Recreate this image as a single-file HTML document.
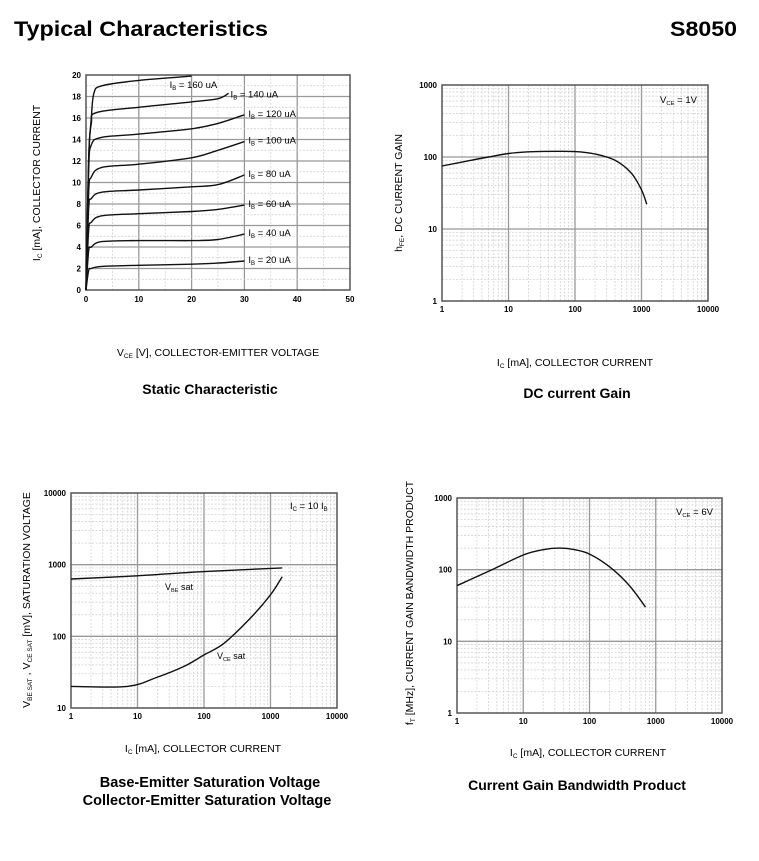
<!DOCTYPE html>
<html><head><meta charset="utf-8"><style>
body{margin:0;background:#fff;width:759px;height:856px;overflow:hidden;font-family:"Liberation Sans",Arial,sans-serif}
svg text{font-family:"Liberation Sans",Arial,sans-serif}
</style></head><body>
<svg id="s" width="759" height="856" viewBox="0 0 759 856">
<text x="14" y="36" font-size="21" font-weight="bold" textLength="254" lengthAdjust="spacingAndGlyphs">Typical Characteristics</text>
<text x="670" y="36" font-size="21" font-weight="bold" textLength="67" lengthAdjust="spacingAndGlyphs">S8050</text>
</svg>
<script>
// Static characteristic data (Vce V, Ic mA)
const ibLabels=["20 uA","40 uA","60 uA","80 uA","100 uA","120 uA","140 uA","160 uA"];
const ibX=[[0,0.5,1,3,10,20,25,30],[0,0.5,1,3,10,20,25,30],[0,0.5,1,3,10,20,25,30],[0,0.5,1,3,10,20,25,30],[0,0.5,1,3,10,20,25,30],[0,0.5,1,3,10,20,25,30],[0,0.5,1,2,10,20,25,27],[0,0.5,1,1.5,3,10,20]];
const ibY=[[0,1.8,2.0,2.2,2.3,2.4,2.5,2.7],[0,3.6,4.0,4.5,4.6,4.6,4.7,5.2],[0,5.5,6.3,6.9,7.1,7.3,7.5,7.9],[0,7.5,8.5,9.1,9.3,9.6,9.8,10.7],[0,9,10.5,11.4,11.7,12.3,13,13.8],[0,11,13.5,14.2,14.5,15,15.5,16.3],[0,12,15.5,16.5,17,17.5,17.8,18.3],[0,12,16,18.3,19,19.5,19.9]];
const tlXTicks=[0,10,20,30,40,50];
const tlYTicks=[0,2,4,6,8,10,12,14,16,18,20];
// DC current gain
const hfeX=[1,2,5,10,20,50,100,200,400,700,1000,1200];
const hfeY=[75,85,100,112,118,120,119,110,90,60,35,22];
// Saturation voltages
const vbeX=[1,10,100,1500];
const vbeY=[630,700,800,900];
const vceX=[1,7,20,50,100,200,500,1000,1500];
const vceY=[20,20,27,38,55,80,180,380,680];
// Gain bandwidth
const ftX=[1,3,10,20,35,60,100,200,400,700];
const ftY=[60,95,160,190,200,190,165,110,60,30];

const NS="http://www.w3.org/2000/svg";
const svg=document.getElementById('s');
const AX=10.5;
function el(t,a,p){const e=document.createElementNS(NS,t);for(const k in a)e.setAttribute(k,a[k]);(p||svg).appendChild(e);return e;}
function txt(x,y,s,size,extra,p){const e=el('text',Object.assign({x:x,y:y,'font-size':size},extra||{}),p);e.textContent=s;return e;}

function frame(name){
  const g=el('g',{});
  
  
  return g;
}
function logAxis(a,b,min,max){const la=Math.log10(min),lb=Math.log10(max);return v=>a+(Math.log10(v)-la)/(lb-la)*(b-a);}
function linAxis(a,b,min,max){return v=>a+(v-min)/(max-min)*(b-a);}
function line(g,x1,y1,x2,y2,st,w,dash){const l=el('line',{x1:x1,y1:y1,x2:x2,y2:y2,stroke:st,'stroke-width':w},g);if(dash)l.setAttribute('stroke-dasharray',dash);return l;}
function logGrid(g,sc,min,max,vert,a,b){
  for(let d=min;d<max;d*=10){for(let k=1;k<10;k++){const v=d*k;const p=sc(v);
    if(k===1){if(v>min)vert?line(g,p,a,p,b,'#999',1.3):line(g,a,p,b,p,'#999',1.3);}
    else vert?line(g,p,a,p,b,'#ccc',0.7,'2,1.5'):line(g,a,p,b,p,'#ccc',0.7,'2,1.5');}}
}
function smoothPath(g,xs,ys,sx,sy,name){
  const P=xs.map((x,i)=>[sx(x),sy(ys[i])]);
  let d='M'+P[0][0].toFixed(1)+','+P[0][1].toFixed(1);
  for(let i=0;i<P.length-1;i++){const p0=P[Math.max(0,i-1)],p1=P[i],p2=P[i+1],p3=P[Math.min(P.length-1,i+2)];
    const c1=[p1[0]+(p2[0]-p0[0])/6,p1[1]+(p2[1]-p0[1])/6],c2=[p2[0]-(p3[0]-p1[0])/6,p2[1]-(p3[1]-p1[1])/6];
    d+='C'+c1[0].toFixed(1)+','+c1[1].toFixed(1)+' '+c2[0].toFixed(1)+','+c2[1].toFixed(1)+' '+p2[0].toFixed(1)+','+p2[1].toFixed(1);}
  const p=el('path',{d:d,fill:'none',stroke:'#111','stroke-width':1.4},g);
  
  
  return p;
}
function box(g,x0,y0,x1,y1){el('rect',{x:x0,y:y0,width:x1-x0,height:y1-y0,fill:'none',stroke:'#555','stroke-width':1.5},g);}
function logTicks(g,sc,min,max,vert,pos){
  for(let v=min;v<=max;v*=10){const t=vert?txt(sc(v),pos,String(v),8,{'text-anchor':'middle','font-weight':'bold'},g):txt(pos,sc(v)+3,String(v),8,{'text-anchor':'end','font-weight':'bold'},g);
    
    }
}

// ---------- Chart 1: static characteristic ----------
{
 const g=frame('static-characteristic-chart');
 const sx=linAxis(86,350,0,50), sy=linAxis(290,75,0,20);
 for(let v=5;v<50;v+=5){const p=sx(v);v%10?line(g,p,75,p,290,'#ccc',0.7,'2,1.5'):line(g,p,75,p,290,'#999',1.3);}
 for(let v=1;v<20;v++){const p=sy(v);v%2?line(g,86,p,350,p,'#ccc',0.7,'2,1.5'):line(g,86,p,350,p,'#999',1.3);}
 box(g,86,75,350,290);
 tlXTicks.forEach(v=>{const t=txt(sx(v),302,String(v),8,{'text-anchor':'middle','font-weight':'bold'},g);});
 tlYTicks.forEach(v=>{const t=txt(81,sy(v)+3,String(v),8,{'text-anchor':'end','font-weight':'bold'},g);});
 ibX.forEach((xs,i)=>{
   smoothPath(g,xs,ibY[i],sx,sy,'curve-ib-'+(i+1)*20);
   const last=xs.length-1;
   const lx=sx(xs[last])+(i===7?-22:i===6?2:4), ly=sy(ibY[i][last])+(i===7?12:i===6?4:2);
   const t=el('text',{x:lx,y:ly,'font-size':9.5},g);
   t.innerHTML='I<tspan font-size="6" dy="2">B</tspan><tspan dy="-2"> = '+ibLabels[i]+'</tspan>';
   
   
 });
 const yl=el('text',{x:0,y:0,'font-size':AX,transform:'translate(40,183) rotate(-90)','text-anchor':'middle'});
 yl.innerHTML='I<tspan font-size="6.5" dy="2">C</tspan><tspan dy="-2"> [mA], COLLECTOR CURRENT</tspan>';
 
 const xl=el('text',{x:218,y:356,'font-size':AX,'text-anchor':'middle'});
 xl.innerHTML='V<tspan font-size="6.5" dy="2">CE</tspan><tspan dy="-2"> [V], COLLECTOR-EMITTER VOLTAGE</tspan>';
 
 const t=txt(210,394,'Static Characteristic',14,{'text-anchor':'middle','font-weight':'bold'});
 
}

function logChart(name,x0,x1,y0,y1,ymin,ymax){
 const g=frame(name);
 const sx=logAxis(x0,x1,1,10000), sy=logAxis(y1,y0,ymin,ymax);
 logGrid(g,sx,1,10000,true,y0,y1);
 logGrid(g,sy,ymin,ymax,false,x0,x1);
 box(g,x0,y0,x1,y1);
 logTicks(g,sx,1,10000,true,y1+11);
 logTicks(g,sy,ymin,ymax,false,x0-5);
 return {g,sx,sy};
}
function sub(x,y,main,s,rest,size,extra,name){
 const t=el('text',Object.assign({x:x,y:y,'font-size':size},extra||{}));
 t.innerHTML=main+'<tspan font-size="'+(size*0.62)+'" dy="2">'+s+'</tspan><tspan dy="-2">'+rest+'</tspan>';
 
 
 return t;
}

// ---------- Chart 2: DC current gain ----------
{
 const c=logChart('dc-current-gain-chart',442,708,85,301,1,1000);
 smoothPath(c.g,hfeX,hfeY,c.sx,c.sy,'hfe-curve');
 sub(660,103,'V','CE',' = 1V',9.5,{},'condition-label');
 sub(0,0,'h','FE',', DC CURRENT GAIN',AX,{transform:'translate(402,193) rotate(-90)','text-anchor':'middle'},'y-axis-title');
 sub(575,366,'I','C',' [mA], COLLECTOR CURRENT',AX,{'text-anchor':'middle'},'x-axis-title');
 const t=txt(577,398,'DC current Gain',14,{'text-anchor':'middle','font-weight':'bold'});
 
}

// ---------- Chart 3: saturation voltage ----------
{
 const c=logChart('saturation-voltage-chart',71,337,493,708,10,10000);
 smoothPath(c.g,vbeX,vbeY,c.sx,c.sy,'vbe-sat-curve');
 smoothPath(c.g,vceX,vceY,c.sx,c.sy,'vce-sat-curve');
 sub(165,590,'V','BE',' sat',9,{},'vbe-sat-label');
 sub(217,659,'V','CE',' sat',9,{},'vce-sat-label');
 const ic=el('text',{x:290,y:509,'font-size':9.5});
 ic.innerHTML='I<tspan font-size="6" dy="2">C</tspan><tspan dy="-2"> = 10 I</tspan><tspan font-size="6" dy="2">B</tspan>';
 
 const yl=el('text',{x:0,y:0,'font-size':AX,transform:'translate(30,600) rotate(-90)','text-anchor':'middle'});
 yl.innerHTML='V<tspan font-size="6.5" dy="2">BE SAT</tspan><tspan dy="-2">   ,  V</tspan><tspan font-size="6.5" dy="2">CE SAT</tspan><tspan dy="-2">   [mV], SATURATION VOLTAGE</tspan>';
 
 sub(203,752,'I','C',' [mA], COLLECTOR CURRENT',AX,{'text-anchor':'middle'},'x-axis-title');
 const t1=txt(210,787,'Base-Emitter Saturation Voltage',14.5,{'text-anchor':'middle','font-weight':'bold'});
 
 const t2=txt(207,805,'Collector-Emitter Saturation Voltage',14.5,{'text-anchor':'middle','font-weight':'bold'});
 
}

// ---------- Chart 4: gain bandwidth ----------
{
 const c=logChart('gain-bandwidth-chart',457,722,498,713,1,1000);
 smoothPath(c.g,ftX,ftY,c.sx,c.sy,'ft-curve');
 sub(676,515,'V','CE',' = 6V',9.5,{},'condition-label');
 sub(0,0,'f','T',' [MHz], CURRENT GAIN BANDWIDTH PRODUCT',AX,{transform:'translate(413,603) rotate(-90)','text-anchor':'middle'},'y-axis-title');
 sub(588,756,'I','C',' [mA], COLLECTOR CURRENT',AX,{'text-anchor':'middle'},'x-axis-title');
 const t=txt(577,790,'Current Gain Bandwidth Product',14,{'text-anchor':'middle','font-weight':'bold'});
 
}
</script>
</body></html>
